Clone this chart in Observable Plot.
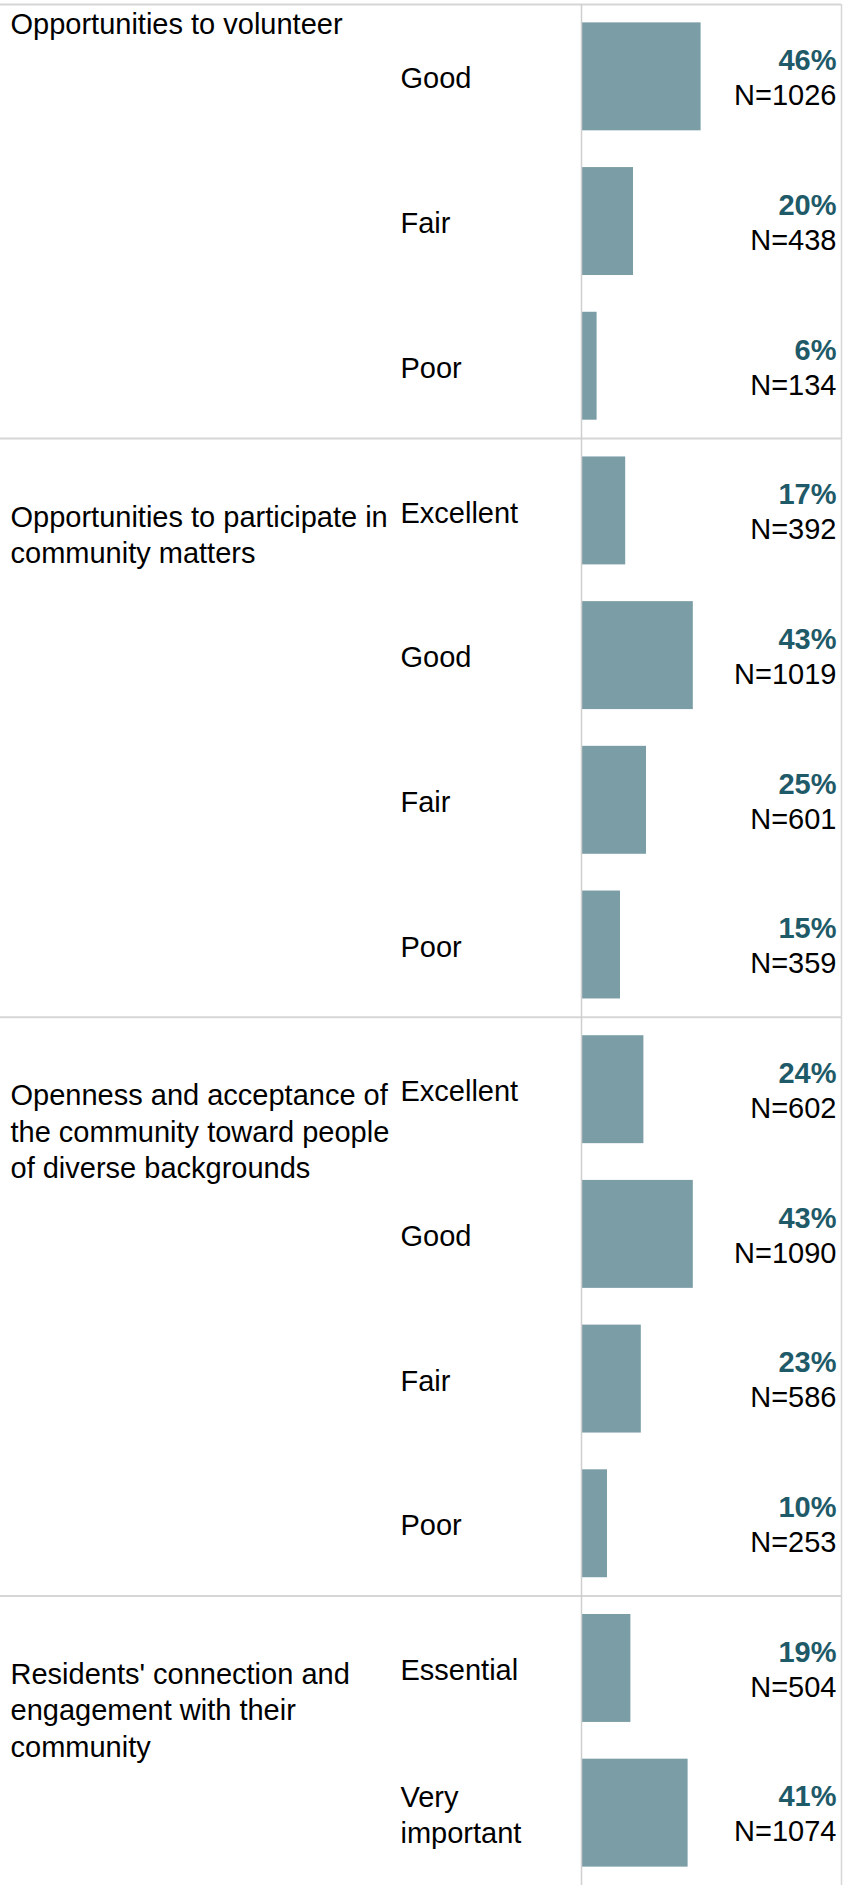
<!DOCTYPE html>
<html>
<head>
<meta charset="utf-8">
<script src="https://cdn.jsdelivr.net/npm/d3@7"></script>
<script src="https://cdn.jsdelivr.net/npm/@observablehq/plot@0.6"></script>
<style>
  html, body { margin: 0; padding: 0; background: #ffffff; }
  #chart svg { display: block; }
</style>
</head>
<body>
<div id="chart"></div>
<script>
// ---- Data ----
const groups = [
  "Opportunities to volunteer",
  "Opportunities to participate in\ncommunity matters",
  "Openness and acceptance of\nthe community toward people\nof diverse backgrounds",
  "Residents' connection and\nengagement with their\ncommunity"
];
const groupCategories = [
  ["Good", "Fair", "Poor"],
  ["Excellent", "Good", "Fair", "Poor"],
  ["Excellent", "Good", "Fair", "Poor"],
  ["Essential", "Very\nimportant"]
];
const groupPercents = [
  [46, 20, 6],
  [17, 43, 25, 15],
  [24, 43, 23, 10],
  [19, 41]
];
const groupCounts = [
  [1026, 438, 134],
  [392, 1019, 601, 359],
  [602, 1090, 586, 253],
  [504, 1074]
];

// ---- Build tables ----
const rows = [];
const groupInfo = [];
groups.forEach((g, gi) => {
  groupInfo.push({name: g, first: rows.length});
  groupCategories[gi].forEach((c, ci) => {
    rows.push({group: g, cat: c, pct: groupPercents[gi][ci], n: groupCounts[gi][ci], i: rows.length});
  });
});
const nRows = rows.length;
const pad = 0.127;

const barColor = "#7b9da6";
const pctColor = "#1f5a68";
const lineColor = "#d6d6d6";
const font = "'Liberation Sans', Arial, Helvetica, sans-serif";
const fs = 29;

const chart = Plot.plot({
  width: 852,
  height: 1885,
  marginTop: 4,
  marginRight: 11,
  marginBottom: 0,
  marginLeft: 0,
  style: {fontFamily: font, fontSize: fs + "px", background: "#ffffff"},
  x: {domain: [0, 1], range: [581, 841], axis: null},
  y: {domain: [0, nRows], range: [4, 1885], axis: null},
  marks: [
    // group separators (incl. top border)
    Plot.ruleY(groupInfo, {y: d => d.first, stroke: lineColor, strokeWidth: 2}),
    // bars
    Plot.rectX(rows, {
      x1: 0, x2: d => d.pct / 100,
      y1: d => d.i + pad, y2: d => d.i + 1 - pad,
      fill: barColor
    }),
    // baseline and right border
    Plot.ruleX([0], {stroke: "#cfcfcf", strokeWidth: 1.5}),
    Plot.ruleX([1], {stroke: lineColor, strokeWidth: 1.5}),
    // category labels
    Plot.text(rows, {
      y: d => d.i + 0.5, text: "cat",
      frameAnchor: "left", dx: 400, textAnchor: "start",
      lineHeight: 1.25, fontSize: fs, fill: "#000"
    }),
    // percent labels
    Plot.text(rows, {
      y: d => d.i + 0.5, text: d => `${d.pct}%`,
      frameAnchor: "right", dx: -5, dy: -16, textAnchor: "end",
      fontSize: fs, fontWeight: "bold", fill: pctColor
    }),
    // N labels
    Plot.text(rows, {
      y: d => d.i + 0.5, text: d => `N=${d.n}`,
      frameAnchor: "right", dx: -5, dy: 19, textAnchor: "end",
      fontSize: fs, fill: "#000"
    }),
    // first group's label (its header sticks to the top of the view)
    Plot.text(groupInfo.slice(0, 1), {
      text: "name", frameAnchor: "top-left", dx: 10, dy: 4,
      lineAnchor: "top", textAnchor: "start",
      lineHeight: 1.25, fontSize: fs, fill: "#000"
    }),
    // other group labels, first line level with the group's first row
    Plot.text(groupInfo.slice(1), {
      y: d => d.first + 0.5, text: "name",
      frameAnchor: "left", dx: 10, dy: -10,
      lineAnchor: "top", textAnchor: "start",
      lineHeight: 1.25, fontSize: fs, fill: "#000"
    })
  ]
});
document.getElementById("chart").appendChild(chart);
</script>
</body>
</html>
